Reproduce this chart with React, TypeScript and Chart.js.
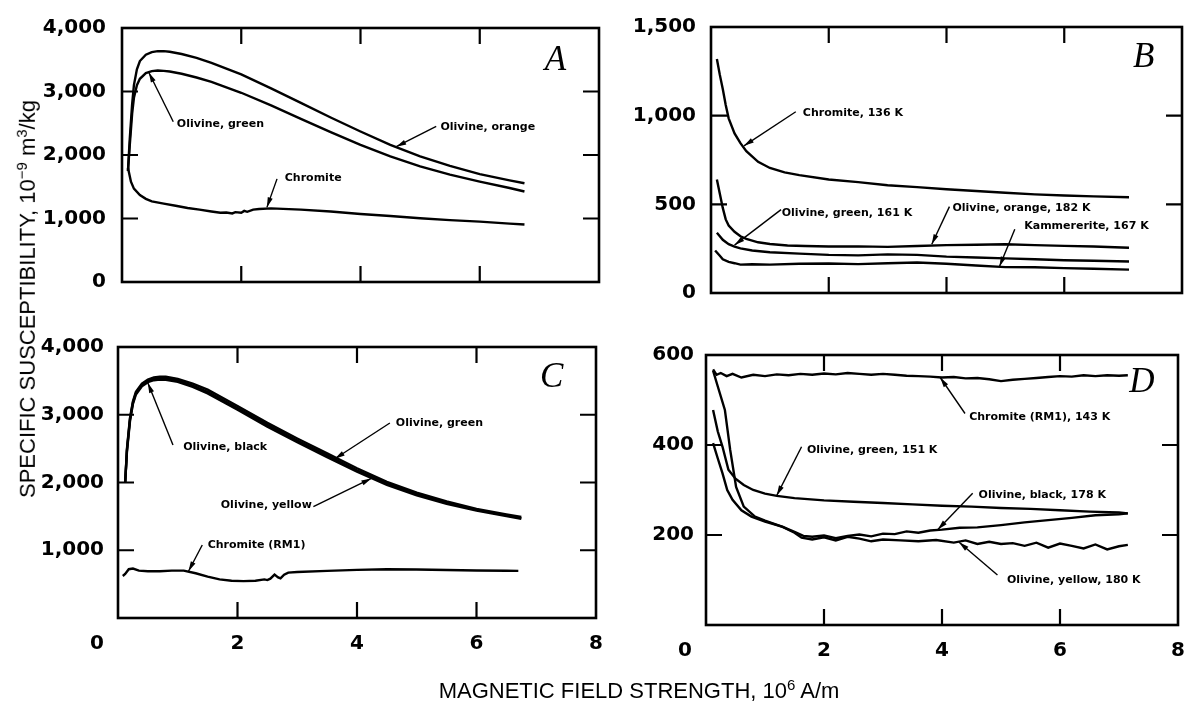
import React, { useEffect, useRef } from "react";
import { Chart, registerables } from "chart.js";

Chart.register(...registerables);

// ---------- shared axis values ----------
const xTickValues = [0, 2, 4, 6, 8];

// ---------- Panel A ----------
const aFieldOlivine = [0.1, 0.13, 0.17, 0.2, 0.25, 0.3, 0.4, 0.5, 0.6, 0.7, 0.8, 1.0, 1.25, 1.5, 2, 2.5, 3, 3.5, 4, 4.5, 5, 5.5, 6, 6.5, 6.75];
const aOlivineOrange = [1750, 2250, 2800, 3100, 3350, 3480, 3580, 3620, 3635, 3635, 3625, 3590, 3530, 3450, 3270, 3050, 2820, 2590, 2370, 2160, 1980, 1830, 1700, 1600, 1555];
const aOlivineGreen = [1750, 2150, 2650, 2900, 3100, 3200, 3290, 3320, 3330, 3325, 3315, 3280, 3220, 3150, 2980, 2780, 2570, 2360, 2160, 1980, 1820, 1690, 1580, 1480, 1425];
const aFieldChromite = [0.1, 0.15, 0.2, 0.3, 0.4, 0.5, 0.7, 0.9, 1.1, 1.3, 1.5, 1.65, 1.75, 1.85, 1.9, 2.0, 2.05, 2.1, 2.2, 2.3, 2.5, 3, 3.5, 4, 4.5, 5, 5.5, 6, 6.5, 6.75];
const aChromite = [1800, 1580, 1470, 1370, 1310, 1270, 1235, 1200, 1165, 1140, 1110, 1090, 1095, 1080, 1100, 1090, 1120, 1105, 1140, 1150, 1160, 1140, 1110, 1070, 1040, 1005, 975, 950, 920, 905];
const aNoteText = ["Olivine, green", "Olivine, orange", "Chromite"];
const aNoteAt = [[0.92, 2480], [5.34, 2435], [2.73, 1638]];
const aArrowFrom = [[0.86, 2524], [5.27, 2450], [2.6, 1624]];
const aArrowTo = [[0.45, 3300], [4.6, 2130], [2.43, 1175]];

// ---------- Panel B ----------
const bFieldChromite = [0.1, 0.15, 0.2, 0.25, 0.3, 0.4, 0.5, 0.6, 0.8, 1.0, 1.25, 1.5, 2, 2.5, 3, 3.5, 4, 4.5, 5, 5.5, 6, 6.5, 7.1];
const bChromite136 = [1320, 1230, 1150, 1060, 985, 900, 845, 800, 740, 705, 680, 665, 640, 625, 608, 597, 585, 575, 565, 556, 550, 545, 540];
const bFieldOrange = [0.1, 0.15, 0.2, 0.25, 0.3, 0.4, 0.5, 0.6, 0.8, 1.0, 1.3, 1.6, 2.0, 2.5, 3.0, 3.5, 4.0, 4.5, 5.0, 5.5, 6.0, 6.5, 7.1];
const bOrange182 = [640, 560, 480, 415, 380, 345, 320, 305, 286, 276, 268, 265, 262, 263, 260, 265, 270, 272, 275, 270, 266, 262, 255];
const bFieldGreen = [0.1, 0.15, 0.2, 0.3, 0.4, 0.5, 0.7, 1.0, 1.5, 2.0, 2.5, 3.0, 3.5, 4.0, 4.5, 5.0, 5.5, 6.0, 6.5, 7.1];
const bGreen161 = [340, 320, 300, 275, 262, 252, 240, 230, 222, 215, 212, 218, 215, 205, 200, 195, 190, 185, 182, 178];
const bFieldKamm = [0.07, 0.15, 0.2, 0.3, 0.4, 0.5, 0.7, 1.0, 1.5, 2.0, 2.5, 3.0, 3.5, 4.0, 4.5, 5.0, 5.5, 6.0, 6.5, 7.1];
const bKammererite167 = [240, 210, 190, 175, 168, 160, 162, 160, 165, 166, 163, 168, 172, 165, 155, 146, 145, 140, 137, 132];
const bNoteText = ["Chromite, 136 K", "Olivine, green, 161 K", "Olivine, orange, 182 K", "Kammererite, 167 K"];
const bNoteAt = [[1.56, 1013], [1.2, 448], [4.1, 476], [5.32, 376]];
const bArrowFrom = [[1.44, 1022], [1.19, 470], [4.05, 487], [5.16, 360]];
const bArrowTo = [[0.56, 830], [0.4, 270], [3.75, 275], [4.9, 150]];

// ---------- Panel C ----------
const cFieldOlivine = [0.12, 0.15, 0.2, 0.25, 0.3, 0.4, 0.5, 0.6, 0.7, 0.8, 1.0, 1.25, 1.5, 2, 2.5, 3, 3.5, 4, 4.5, 5, 5.5, 6, 6.5, 6.75];
const cOlivineGreen = [2000, 2500, 2950, 3200, 3340, 3460, 3520, 3550, 3560, 3560, 3530, 3460, 3370, 3130, 2880, 2650, 2430, 2210, 2010, 1850, 1720, 1610, 1530, 1490];
const cOlivineBlack = [2000, 2480, 2930, 3180, 3320, 3440, 3500, 3530, 3540, 3535, 3505, 3430, 3340, 3100, 2850, 2620, 2400, 2180, 1990, 1830, 1700, 1600, 1515, 1475];
const cOlivineYellow = [2000, 2460, 2900, 3160, 3300, 3420, 3480, 3510, 3520, 3515, 3485, 3410, 3315, 3075, 2825, 2595, 2375, 2160, 1965, 1810, 1685, 1585, 1505, 1465];
const cFieldChromite = [0.08, 0.12, 0.18, 0.25, 0.35, 0.5, 0.7, 0.9, 1.1, 1.3, 1.5, 1.7, 1.9, 2.1, 2.3, 2.45, 2.5, 2.55, 2.62, 2.68, 2.72, 2.78, 2.85, 3.0, 3.5, 4.0, 4.5, 5.0, 5.5, 6.0, 6.5, 6.7];
const cChromiteRM1 = [620, 650, 720, 730, 700, 690, 690, 700, 700, 660, 610, 570, 550, 545, 550, 570, 560, 580, 640, 600, 585, 640, 670, 680, 695, 710, 720, 715, 708, 702, 698, 695];
const cNoteText = ["Olivine, black", "Olivine, green", "Olivine, yellow", "Chromite (RM1)"];
const cNoteAt = [[1.09, 2524], [4.65, 2878], [1.72, 1668], [1.5, 1077]];
const cArrowFrom = [[0.92, 2553], [4.55, 2878], [3.27, 1643], [1.41, 1077]];
const cArrowTo = [[0.5, 3470], [3.63, 2350], [4.24, 2060], [1.18, 690]];

// ---------- Panel D ----------
const dFieldChromite = [0.12, 0.18, 0.25, 0.35, 0.45, 0.6, 0.8, 1.0, 1.2, 1.4, 1.6, 1.8, 2.0, 2.2, 2.4, 2.6, 2.8, 3.0, 3.2, 3.4, 3.6, 3.8, 4.0, 4.2, 4.4, 4.6, 4.8, 5.0, 5.2, 5.4, 5.6, 5.8, 6.0, 6.2, 6.4, 6.6, 6.8, 7.0, 7.15];
const dChromite143 = [568, 556, 560, 553, 558, 550, 556, 553, 557, 555, 558, 556, 559, 557, 560, 558, 556, 558, 556, 554, 553, 552, 550, 551, 548, 549, 546, 542, 545, 547, 549, 551, 553, 552, 555, 553, 555, 554, 555];
const dFieldGreen = [0.12, 0.2, 0.28, 0.38, 0.5, 0.64, 0.8, 1.0, 1.2, 1.5, 2.0, 2.5, 3.0, 3.5, 4.0, 4.5, 5.0, 5.5, 6.0, 6.5, 7.0, 7.15];
const dGreen151 = [478, 430, 396, 345, 325, 311, 300, 292, 287, 282, 277, 274, 271, 268, 265, 263, 260, 258, 255, 252, 250, 248];
const dFieldBlack = [0.12, 0.2, 0.32, 0.41, 0.51, 0.64, 0.83, 1.0, 1.3, 1.5, 1.65, 1.8, 2.0, 2.2, 2.4, 2.6, 2.8, 3.0, 3.2, 3.4, 3.6, 3.8, 4.0, 4.3, 4.6, 5.0, 5.4, 5.8, 6.2, 6.6, 7.0, 7.15];
const dBlack178 = [565, 530, 478, 389, 307, 263, 241, 232, 218, 207, 198, 196, 199, 193, 198, 201, 197, 203, 202, 208, 205, 210, 212, 216, 217, 222, 228, 233, 238, 244, 246, 248];
const dFieldYellow = [0.12, 0.2, 0.28, 0.36, 0.45, 0.6, 0.77, 1.0, 1.3, 1.5, 1.62, 1.8, 2.0, 2.2, 2.4, 2.6, 2.8, 3.0, 3.3, 3.6, 3.9, 4.2, 4.4, 4.6, 4.8, 5.0, 5.2, 5.4, 5.6, 5.8, 6.0, 6.2, 6.4, 6.6, 6.8, 7.0, 7.15];
const dYellow180 = [404, 370, 337, 300, 278, 255, 241, 230, 218, 205, 194, 190, 195, 188, 196, 192, 186, 190, 188, 186, 189, 183, 188, 180, 185, 180, 182, 176, 183, 172, 181, 176, 170, 179, 168, 175, 178];
const dNoteText = ["Chromite (RM1), 143 K", "Olivine, green, 151 K", "Olivine, black, 178 K", "Olivine, yellow, 180 K"];
const dNoteAt = [[4.46, 462], [1.71, 389], [4.62, 289], [5.1, 100]];
const dArrowFrom = [[4.39, 470], [1.62, 396], [4.52, 293], [4.94, 111]];
const dArrowTo = [[3.97, 550], [1.2, 288], [3.93, 212], [4.29, 184]];

const panelLetters = ["A", "B", "C", "D"];
const letterAt = [[7.27, 3483], [7.35, 1328], [7.26, 3542], [7.39, 538]];

type Series = { x: number[]; y: number[] };

type PanelDef = {
  left: number; top: number; w: number; h: number;
  pad: { left: number; top: number; right: number; bottom: number };
  yWidth: number; yPad: number;
  yMax: number; yStep: number; showZero: boolean; xLabels: boolean;
  series: Series[];
  noteText: string[]; noteAt: number[][]; arrowFrom: number[][]; arrowTo: number[][];
  letter: string; letterPos: number[];
};

const panels: PanelDef[] = [
  {
    left: 0, top: 0, w: 620, h: 310,
    pad: { left: 0, top: 17, right: 21, bottom: 22 }, yWidth: 122, yPad: 16,
    yMax: 4000, yStep: 1000, showZero: true, xLabels: false,
    series: [
      { x: aFieldOlivine, y: aOlivineOrange },
      { x: aFieldOlivine, y: aOlivineGreen },
      { x: aFieldChromite, y: aChromite },
    ],
    noteText: aNoteText, noteAt: aNoteAt, arrowFrom: aArrowFrom, arrowTo: aArrowTo,
    letter: panelLetters[0], letterPos: letterAt[0],
  },
  {
    left: 620, top: 0, w: 572, h: 320,
    pad: { left: 0, top: 27, right: 10, bottom: 22 }, yWidth: 91, yPad: 15,
    yMax: 1500, yStep: 500, showZero: true, xLabels: false,
    series: [
      { x: bFieldChromite, y: bChromite136 },
      { x: bFieldOrange, y: bOrange182 },
      { x: bFieldGreen, y: bGreen161 },
      { x: bFieldKamm, y: bKammererite167 },
    ],
    noteText: bNoteText, noteAt: bNoteAt, arrowFrom: bArrowFrom, arrowTo: bArrowTo,
    letter: panelLetters[1], letterPos: letterAt[1],
  },
  {
    left: 0, top: 320, w: 620, h: 386,
    pad: { left: 0, top: 27, right: 24, bottom: 88 }, yWidth: 118, yPad: 14,
    yMax: 4000, yStep: 1000, showZero: false, xLabels: true,
    series: [
      { x: cFieldOlivine, y: cOlivineGreen },
      { x: cFieldOlivine, y: cOlivineBlack },
      { x: cFieldOlivine, y: cOlivineYellow },
      { x: cFieldChromite, y: cChromiteRM1 },
    ],
    noteText: cNoteText, noteAt: cNoteAt, arrowFrom: cArrowFrom, arrowTo: cArrowTo,
    letter: panelLetters[2], letterPos: letterAt[2],
  },
  {
    left: 620, top: 320, w: 572, h: 386,
    pad: { left: 0, top: 35, right: 14, bottom: 81 }, yWidth: 86, yPad: 12,
    yMax: 600, yStep: 200, showZero: false, xLabels: true,
    series: [
      { x: dFieldChromite, y: dChromite143 },
      { x: dFieldGreen, y: dGreen151 },
      { x: dFieldBlack, y: dBlack178 },
      { x: dFieldYellow, y: dYellow180 },
    ],
    noteText: dNoteText, noteAt: dNoteAt, arrowFrom: dArrowFrom, arrowTo: dArrowTo,
    letter: panelLetters[3], letterPos: letterAt[3],
  },
];

const TICK_FONT = 'bold 20px "DejaVu Sans"';
const NOTE_FONT = 'bold 11px "DejaVu Sans"';
const LETTER_FONT = 'italic 35px "Liberation Serif"';
const TICK_LEN = 16;

const decorPlugin = {
  id: "panelDecor",
  afterDraw(chart: any) {
    const def: PanelDef = chart.options.plugins.panelDecor.def;
    const { ctx, chartArea: ca, scales } = chart;
    const xs = scales.x;
    const ys = scales.y;
    const px = (v: number) => xs.getPixelForValue(v);
    const py = (v: number) => ys.getPixelForValue(v);
    ctx.save();
    ctx.strokeStyle = "#000";
    ctx.fillStyle = "#000";
    ctx.lineCap = "butt";
    // frame
    ctx.lineWidth = 2.6;
    ctx.strokeRect(ca.left, ca.top, ca.right - ca.left, ca.bottom - ca.top);
    // inward ticks
    ctx.lineWidth = 2.2;
    ctx.beginPath();
    xTickValues.forEach((v) => {
      if (v <= 0 || v >= 8) return;
      const X = px(v);
      ctx.moveTo(X, ca.bottom); ctx.lineTo(X, ca.bottom - TICK_LEN);
      ctx.moveTo(X, ca.top); ctx.lineTo(X, ca.top + TICK_LEN);
    });
    for (let v = def.yStep; v < def.yMax; v += def.yStep) {
      const Y = py(v);
      ctx.moveTo(ca.left, Y); ctx.lineTo(ca.left + TICK_LEN, Y);
      ctx.moveTo(ca.right, Y); ctx.lineTo(ca.right - TICK_LEN, Y);
    }
    ctx.stroke();
    // x tick labels
    if (def.xLabels) {
      ctx.font = TICK_FONT;
      ctx.textAlign = "center";
      ctx.textBaseline = "middle";
      xTickValues.forEach((v) => {
        const shift = v === 0 ? -21 : 0;
        ctx.fillText(String(v), px(v) + shift, ca.bottom + 26);
      });
    }
    // annotations with arrows
    ctx.font = NOTE_FONT;
    ctx.textAlign = "left";
    ctx.textBaseline = "middle";
    def.noteText.forEach((t, i) => {
      ctx.fillText(t, px(def.noteAt[i][0]), py(def.noteAt[i][1]));
      const x1 = px(def.arrowFrom[i][0]);
      const y1 = py(def.arrowFrom[i][1]);
      const x2 = px(def.arrowTo[i][0]);
      const y2 = py(def.arrowTo[i][1]);
      ctx.lineWidth = 1.4;
      ctx.beginPath();
      ctx.moveTo(x1, y1);
      ctx.lineTo(x2, y2);
      ctx.stroke();
      const ang = Math.atan2(y2 - y1, x2 - x1);
      const L = 10;
      const W = 2.6;
      ctx.beginPath();
      ctx.moveTo(x2, y2);
      ctx.lineTo(x2 - L * Math.cos(ang) + W * Math.sin(ang), y2 - L * Math.sin(ang) - W * Math.cos(ang));
      ctx.lineTo(x2 - L * Math.cos(ang) - W * Math.sin(ang), y2 - L * Math.sin(ang) + W * Math.cos(ang));
      ctx.closePath();
      ctx.fill();
    });
    // panel letter
    ctx.font = LETTER_FONT;
    ctx.textAlign = "center";
    ctx.textBaseline = "middle";
    ctx.fillText(def.letter, px(def.letterPos[0]), py(def.letterPos[1]));
    ctx.restore();
  },
};

function Panel({ def }: { def: PanelDef }) {
  const ref = useRef<HTMLCanvasElement | null>(null);
  useEffect(() => {
    if (!ref.current) return;
    const chart = new Chart(ref.current, {
      type: "line",
      data: {
        datasets: def.series.map((s) => ({
          data: s.x.map((x, i) => ({ x, y: s.y[i] })),
          borderColor: "#000",
          borderWidth: 2.4,
          pointRadius: 0,
          tension: 0,
          fill: false,
        })),
      },
      options: {
        animation: false,
        responsive: false,
        maintainAspectRatio: false,
        events: [],
        layout: { padding: def.pad },
        plugins: {
          legend: { display: false },
          tooltip: { enabled: false },
          panelDecor: { def },
        } as any,
        scales: {
          x: { type: "linear", min: 0, max: 8, display: false },
          y: {
            type: "linear",
            min: 0,
            max: def.yMax,
            grid: { display: false, drawTicks: false },
            border: { display: false },
            ticks: {
              stepSize: def.yStep,
              padding: def.yPad,
              color: "#000",
              font: { family: "DejaVu Sans", size: 20, weight: "bold" },
              callback: (v: any) => (v === 0 && !def.showZero ? "" : Number(v).toLocaleString("en-US")),
            },
            afterFit: (s: any) => {
              s.width = def.yWidth;
            },
          },
        },
      } as any,
      plugins: [decorPlugin],
    });
    return () => chart.destroy();
  }, [def]);
  return (
    <canvas
      ref={ref}
      width={def.w}
      height={def.h}
      style={{ position: "absolute", left: def.left, top: def.top, width: def.w, height: def.h }}
    />
  );
}

export default function App() {
  const titleStyle: React.CSSProperties = {
    position: "absolute",
    fontFamily: '"Liberation Sans", Arial, sans-serif',
    fontSize: 22,
    color: "#000",
    whiteSpace: "nowrap",
    lineHeight: "26px",
  };
  const supStyle: React.CSSProperties = { fontSize: 15 };
  return (
    <div style={{ position: "absolute", left: 0, top: 0, width: 1192, height: 706, background: "#fff", overflow: "hidden" }}>
      {panels.map((p, i) => (
        <Panel key={i} def={p} />
      ))}
      <div style={{ ...titleStyle, left: 639, top: 688, transform: "translate(-50%, -50%)" }}>
        MAGNETIC FIELD STRENGTH, 10<sup style={supStyle}>6</sup> A/m
      </div>
      <div style={{ ...titleStyle, left: 25, top: 299, transform: "translate(-50%, -50%) rotate(-90deg)" }}>
        SPECIFIC SUSCEPTIBILITY, 10<sup style={supStyle}>−9</sup> m<sup style={supStyle}>3</sup>/kg
      </div>
    </div>
  );
}
